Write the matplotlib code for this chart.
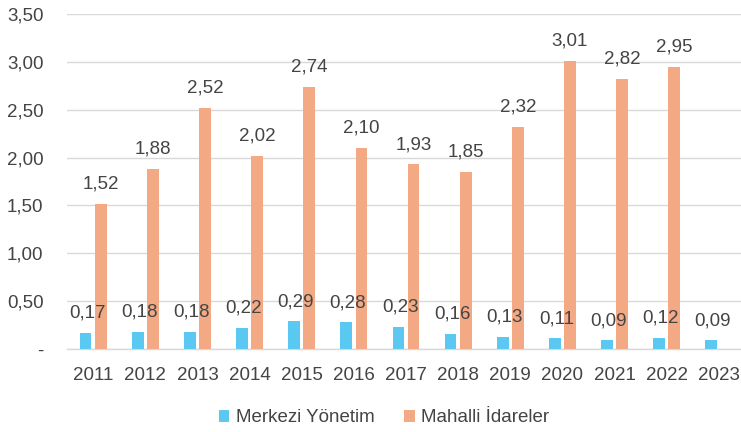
import matplotlib.pyplot as plt
import numpy as np

YEARS = ["2011", "2012", "2013", "2014", "2015", "2016", "2017",
         "2018", "2019", "2020", "2021", "2022", "2023"]
MERKEZI = [0.17, 0.18, 0.18, 0.22, 0.29, 0.28, 0.23, 0.16, 0.13, 0.11, 0.09, 0.12, 0.09]
MAHALLI = [1.52, 1.88, 2.52, 2.02, 2.74, 2.10, 1.93, 1.85, 2.32, 3.01, 2.82, 2.95, None]
YTICKS = [0, 0.5, 1.0, 1.5, 2.0, 2.5, 3.0, 3.5]

BLUE = "#5BC8F2"
ORANGE = "#F2A984"
TEXT = "#444444"

plt.rcParams["font.family"] = ["Liberation Sans", "DejaVu Sans"]


def fmt(v):
    return "-" if v == 0 else f"{v:.2f}".replace(".", ",")


fig = plt.figure(figsize=(7.41, 4.32), dpi=100)
ax = fig.add_axes([67 / 741, 83 / 432, 678 / 741, 335 / 432])

x = np.arange(len(YEARS))
w = 0.225
off = 0.145

xb = x - off
xo = x[:12] + off
mah = [v for v in MAHALLI if v is not None]

ax.bar(xb, MERKEZI, width=w, color=BLUE, label="Merkezi Yönetim", zorder=3)
ax.bar(xo, mah, width=w, color=ORANGE, label="Mahalli İdareler", zorder=3)

for xi, v in zip(xb, MERKEZI):
    ax.annotate(fmt(v), (xi + 0.03, v), xytext=(0, 8), textcoords="offset points",
                ha="center", va="bottom", fontsize=13.5, color=TEXT, zorder=4)
for xi, v in zip(xo, mah):
    ax.annotate(fmt(v), (xi, v), xytext=(0, 8), textcoords="offset points",
                ha="center", va="bottom", fontsize=13.5, color=TEXT, zorder=4)

ax.set_xlim(-0.5, len(YEARS) - 0.5)
ax.set_ylim(0, 3.5)
ax.set_yticks(YTICKS)
ax.set_yticklabels([fmt(v) for v in YTICKS])
ax.set_xticks(x)
ax.set_xticklabels(YEARS)
ax.tick_params(axis="both", length=0, labelsize=13.5, colors=TEXT)
ax.tick_params(axis="y", pad=17)
ax.tick_params(axis="x", pad=13)

ax.grid(axis="y", color="#D9D9D9", linewidth=1, zorder=0)
for s in ["top", "right", "left"]:
    ax.spines[s].set_visible(False)
ax.spines["bottom"].set_color("#D9D9D9")
ax.spines["bottom"].set_linewidth(1)

fig.legend(loc="center", bbox_to_anchor=(384 / 741, 1 - 418 / 432), ncol=2,
           frameon=False, fontsize=13.5, handlelength=0.55, handleheight=0.55,
           handletextpad=0.35, columnspacing=1.6, labelcolor=TEXT)

fig.savefig("out.png", dpi=100)
